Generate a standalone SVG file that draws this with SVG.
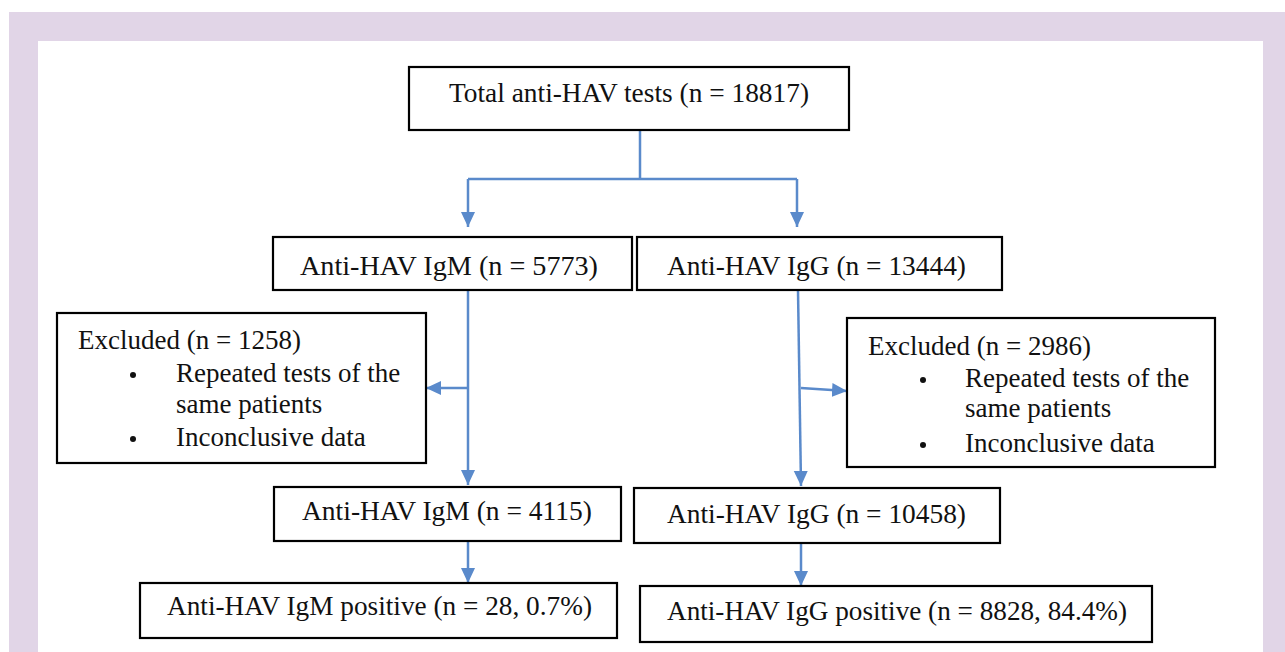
<svg xmlns="http://www.w3.org/2000/svg" width="1285" height="652" viewBox="0 0 1285 652">
<defs>
<marker id="ah" markerUnits="userSpaceOnUse" markerWidth="16" markerHeight="16" viewBox="0 0 16 16" refX="15" refY="8" orient="auto">
<path d="M0,1 L15,8 L0,15 Z" fill="#5A8ACB"/>
</marker>
<style>
.box{fill:#fff;stroke:#000;stroke-width:2.2}
.t{font-size:27px;fill:#111}
.c{fill:none;stroke:#5A8ACB;stroke-width:2.5}
.a{marker-end:url(#ah)}
</style>
</defs>
<rect x="0" y="0" width="1285" height="652" fill="#fff"/>
<rect x="9" y="12" width="1276" height="640" fill="#E1D5E7"/>
<rect x="38" y="41" width="1225" height="611" fill="#fff"/>

<g id="connectors">
<path class="c" d="M640,130 V179"/>
<path class="c" d="M468,179 H797"/>
<path class="c a" d="M468,179 V227"/>
<path class="c a" d="M797,179 V227"/>
<path class="c a" d="M468,290 V485"/>
<path class="c a" d="M468,388 H426"/>
<path class="c a" d="M798,290 L801,486"/>
<path class="c a" d="M801,388 L847,391"/>
<path class="c a" d="M468,541 V583"/>
<path class="c a" d="M801,543 V586"/>
</g>

<g font-family="Liberation Serif, Times New Roman, serif">
<g id="total">
<rect class="box" x="409" y="67" width="440" height="63"/>
<text class="t" x="449" y="102" textLength="360" lengthAdjust="spacingAndGlyphs">Total anti-HAV tests (n = 18817)</text>
</g>
<g id="igm">
<rect class="box" x="273" y="237" width="359" height="53"/>
<text class="t" x="300" y="275" textLength="298" lengthAdjust="spacingAndGlyphs">Anti-HAV IgM (n = 5773)</text>
</g>
<g id="igg">
<rect class="box" x="637" y="237" width="365" height="53"/>
<text class="t" x="667" y="275" textLength="299" lengthAdjust="spacingAndGlyphs">Anti-HAV IgG (n = 13444)</text>
</g>
<g id="excl-left">
<rect class="box" x="57" y="313" width="369" height="150"/>
<text class="t" x="78" y="349">Excluded (n = 1258)</text>
<circle cx="133" cy="375" r="3" fill="#111"/>
<text class="t" x="176" y="382">Repeated tests of the</text>
<text class="t" x="176" y="413">same patients</text>
<circle cx="133" cy="439" r="3" fill="#111"/>
<text class="t" x="176" y="446">Inconclusive data</text>
</g>
<g id="excl-right">
<rect class="box" x="847" y="318" width="368" height="149"/>
<text class="t" x="868" y="355">Excluded (n = 2986)</text>
<circle cx="923" cy="380" r="3" fill="#111"/>
<text class="t" x="965" y="387">Repeated tests of the</text>
<text class="t" x="965" y="417">same patients</text>
<circle cx="923" cy="445" r="3" fill="#111"/>
<text class="t" x="965" y="452">Inconclusive data</text>
</g>
<g id="igm2">
<rect class="box" x="274" y="487" width="347" height="54"/>
<text class="t" x="302" y="520" textLength="290" lengthAdjust="spacingAndGlyphs">Anti-HAV IgM (n = 4115)</text>
</g>
<g id="igg2">
<rect class="box" x="634" y="488" width="366" height="55"/>
<text class="t" x="667" y="523" textLength="299" lengthAdjust="spacingAndGlyphs">Anti-HAV IgG (n = 10458)</text>
</g>
<g id="igm-pos">
<rect class="box" x="140" y="583" width="477" height="55"/>
<text class="t" x="167" y="615" textLength="425" lengthAdjust="spacingAndGlyphs">Anti-HAV IgM positive (n = 28, 0.7%)</text>
</g>
<g id="igg-pos">
<rect class="box" x="640" y="586" width="512" height="56"/>
<text class="t" x="667" y="620" textLength="460" lengthAdjust="spacingAndGlyphs">Anti-HAV IgG positive (n = 8828, 84.4%)</text>
</g>
</g>
</svg>
